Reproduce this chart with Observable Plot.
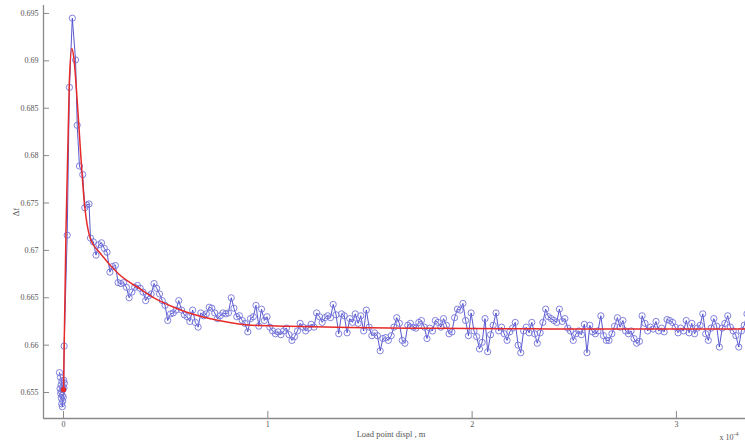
<!DOCTYPE html>
<html>
<head>
<meta charset="utf-8">
<script src="https://cdn.jsdelivr.net/npm/d3@7"></script>
<script src="https://cdn.jsdelivr.net/npm/@observablehq/plot@0.6"></script>
<style>
  html, body { margin: 0; padding: 0; background: #fff; }
  svg { display: block; }
</style>
</head>
<body>
<div id="chart"></div>
<script>
// Load point displacement in units of 1e-4 m, and Δf
const clusterDisp = [-0.020,-0.015,-0.008,-0.012,-0.004,-0.017,-0.010,-0.003,-0.014,-0.006,-0.011,-0.004,-0.009,-0.006,-0.001,0.002,0.004,0.001];
const clusterDf   = [0.6571,0.6566,0.6562,0.6558,0.6556,0.6554,0.6551,0.6553,0.6549,0.6547,0.6544,0.6541,0.6538,0.6535,0.6545,0.6555,0.6560,0.6563];

const peakDisp = [0.003,0.018,0.029,0.043,0.059,0.067,0.078,0.094,0.104,0.114,0.125];
const peakDf   = [0.6599,0.6716,0.6872,0.6945,0.6901,0.6832,0.6789,0.6780,0.6745,0.6748,0.6749];

const tailDisp = [
  0.132,0.146,0.159,0.173,0.186,0.200,0.213,0.227,0.240,0.254,
  0.267,0.281,0.294,0.308,0.321,0.335,0.348,0.362,0.375,0.389,
  0.402,0.416,0.429,0.443,0.456,0.470,0.483,0.497,0.510,0.524,
  0.537,0.551,0.564,0.578,0.591,0.605,0.618,0.632,0.645,0.659,
  0.672,0.686,0.699,0.713,0.726,0.740,0.753,0.767,0.780,0.794,
  0.807,0.821,0.834,0.848,0.861,0.875,0.888,0.902,0.915,0.929,
  0.942,0.956,0.969,0.983,0.996,1.010,1.023,1.037,1.050,1.064,
  1.077,1.091,1.104,1.118,1.131,1.145,1.158,1.172,1.185,1.199,
  1.212,1.226,1.239,1.253,1.266,1.280,1.293,1.307,1.320,1.334,
  1.347,1.361,1.374,1.388,1.401,1.415,1.428,1.442,1.455,1.469,
  1.482,1.496,1.509,1.523,1.536,1.550,1.563,1.577,1.590,1.604,
  1.617,1.631,1.644,1.658,1.671,1.685,1.698,1.712,1.725,1.739,
  1.752,1.766,1.779,1.793,1.806,1.820,1.833,1.847,1.860,1.874,
  1.887,1.901,1.914,1.928,1.941,1.955,1.968,1.982,1.995,2.009,
  2.022,2.036,2.049,2.063,2.076,2.090,2.103,2.117,2.130,2.144,
  2.157,2.171,2.184,2.198,2.211,2.225,2.238,2.252,2.265,2.279,
  2.292,2.306,2.319,2.333,2.346,2.360,2.373,2.387,2.400,2.414,
  2.427,2.441,2.454,2.468,2.481,2.495,2.508,2.522,2.535,2.549,
  2.562,2.576,2.589,2.603,2.616,2.630,2.643,2.657,2.670,2.684,
  2.697,2.711,2.724,2.738,2.751,2.765,2.778,2.792,2.805,2.819,
  2.832,2.846,2.859,2.873,2.886,2.900,2.913,2.927,2.940,2.954,
  2.967,2.981,2.994,3.008,3.021,3.035,3.048,3.062,3.075,3.089,
  3.102,3.116,3.129,3.143,3.156,3.170,3.183,3.197,3.210,3.224,
  3.237,3.251,3.264,3.278,3.291,3.305,3.318,3.332,3.345,3.359
];
const tailDf = [
  0.6713,0.6709,0.6695,0.6706,0.6708,0.6702,0.6698,0.6677,0.6683,0.6684,
  0.6666,0.6665,0.6666,0.6661,0.6650,0.6656,0.6661,0.6663,0.6660,0.6656,
  0.6647,0.6652,0.6654,0.6665,0.6660,0.6654,0.6647,0.6642,0.6626,0.6633,
  0.6634,0.6637,0.6647,0.6637,0.6632,0.6630,0.6625,0.6637,0.6624,0.6619,
  0.6634,0.6631,0.6633,0.6640,0.6639,0.6634,0.6628,0.6631,0.6634,0.6633,
  0.6634,0.6650,0.6639,0.6630,0.6631,0.6626,0.6623,0.6614,0.6628,0.6630,
  0.6642,0.6620,0.6638,0.6626,0.6630,0.6619,0.6615,0.6612,0.6614,0.6611,
  0.6615,0.6618,0.6611,0.6605,0.6609,0.6615,0.6623,0.6619,0.6615,0.6618,
  0.6622,0.6619,0.6634,0.6630,0.6624,0.6629,0.6631,0.6629,0.6643,0.6632,
  0.6612,0.6633,0.6631,0.6613,0.6628,0.6624,0.6633,0.6623,0.6631,0.6615,
  0.6637,0.6619,0.6610,0.6613,0.6610,0.6594,0.6607,0.6608,0.6605,0.6610,
  0.6619,0.6629,0.6623,0.6605,0.6602,0.6621,0.6623,0.6619,0.6618,0.6624,
  0.6626,0.6619,0.6607,0.6618,0.6615,0.6626,0.6624,0.6619,0.6628,0.6621,
  0.6612,0.6614,0.6629,0.6638,0.6637,0.6644,0.6626,0.6610,0.6634,0.6615,
  0.6609,0.6596,0.6603,0.6628,0.6593,0.6611,0.6621,0.6634,0.6615,0.6619,
  0.6612,0.6605,0.6614,0.6618,0.6624,0.6600,0.6592,0.6615,0.6619,0.6613,
  0.6624,0.6612,0.6602,0.6613,0.6624,0.6638,0.6630,0.6628,0.6626,0.6624,
  0.6638,0.6625,0.6628,0.6618,0.6615,0.6605,0.6612,0.6615,0.6611,0.6622,
  0.6592,0.6621,0.6614,0.6612,0.6615,0.6631,0.6610,0.6605,0.6605,0.6612,
  0.6620,0.6629,0.6619,0.6626,0.6615,0.6612,0.6615,0.6607,0.6602,0.6604,
  0.6631,0.6623,0.6615,0.6619,0.6617,0.6625,0.6615,0.6618,0.6614,0.6627,
  0.6626,0.6624,0.6619,0.6613,0.6618,0.6615,0.6626,0.6613,0.6623,0.6612,
  0.6618,0.6621,0.6633,0.6612,0.6605,0.6618,0.6628,0.6620,0.6598,0.6618,
  0.6623,0.6631,0.6619,0.6615,0.6610,0.6598,0.6615,0.6621,0.6633,0.6620
];

// fitted curve (red)
const fitDisp = [0,0.012,0.028,0.040,0.050,0.067,0.083,0.100,0.132,0.180,0.270,0.377,0.434,0.540,0.600,0.760,0.920,1.100,1.400,1.800,2.300,2.800,3.340];
const fitDf   = [0.6553,0.6720,0.6875,0.6913,0.6904,0.6858,0.6805,0.6755,0.6712,0.6697,0.6675,0.6659,0.6651,0.6640,0.6635,0.6626,0.6621,0.6620,0.66185,0.66178,0.66172,0.6617,0.6617];

// axis ticks
const xTicks = [0, 1, 2, 3];
const yTicks = [0.655, 0.66, 0.665, 0.67, 0.675, 0.68, 0.685, 0.69, 0.695];
const xDomain = [-0.098, 3.338];
const yDomain = [0.65226, 0.69584];

const allDisp = clusterDisp.concat(peakDisp, tailDisp);
const allDf = clusterDf.concat(peakDf, tailDf);
const data = allDisp.map((d, i) => ({x: d, y: allDf[i]}));
const fit = fitDisp.map((d, i) => ({x: d, y: fitDf[i]}));

const chart = Plot.plot({
  width: 745,
  height: 443,
  marginLeft: 43,
  marginRight: 0,
  marginTop: 5,
  marginBottom: 25,
  x: {domain: xDomain},
  y: {domain: yDomain},
  style: {fontFamily: "'Liberation Serif', serif", fontSize: "8px", color: "#555", background: "#fff", overflow: "visible"},
  marks: [
    Plot.ruleX([xDomain[0]], {stroke: "#8a8a8a", strokeWidth: 1.3}),
    Plot.ruleY([yDomain[0]], {stroke: "#8a8a8a", strokeWidth: 1.3}),
    Plot.axisY(yTicks, {label: null, tickSize: -6, tickPadding: 11, stroke: "#8a8a8a", tickFormat: d => String(+d.toFixed(3))}),
    Plot.axisX(xTicks, {label: null, tickSize: -7, tickPadding: 9.5, stroke: "#8a8a8a", tickFormat: d => String(d)}),
    Plot.line(data, {x: "x", y: "y", stroke: "#3a3ac6", strokeWidth: 0.85, clip: true}),
    Plot.dot(data, {x: "x", y: "y", r: 3.1, stroke: "#7474da", strokeWidth: 0.9, fill: "none", clip: true}),
    Plot.line(fit, {x: "x", y: "y", stroke: "#e62a2a", strokeWidth: 1.5, curve: "monotone-x", clip: true}),
    Plot.dot(fit.slice(0, 1), {x: "x", y: "y", r: 2.6, fill: "#e62a2a", stroke: "none"})
  ]
});

const svg = d3.select(chart);
svg.append("text")
  .attr("transform", "translate(19,212) rotate(-90)")
  .attr("text-anchor", "middle")
  .attr("font-family", "'Liberation Serif', serif")
  .attr("font-size", 8.5)
  .attr("fill", "#555")
  .text("Δf");
svg.append("text")
  .attr("x", 391).attr("y", 437)
  .attr("text-anchor", "middle")
  .attr("font-family", "'Liberation Serif', serif")
  .attr("font-size", 8.5)
  .attr("fill", "#555")
  .text("Load point displ , m");
const mult = svg.append("text")
  .attr("x", 729).attr("y", 440)
  .attr("font-family", "'Liberation Serif', serif")
  .attr("font-size", 8)
  .attr("fill", "#555")
  .text("x 10");
mult.append("tspan").attr("dy", -4).attr("font-size", 6).text("-4");

document.getElementById("chart").appendChild(chart);
</script>
</body>
</html>
